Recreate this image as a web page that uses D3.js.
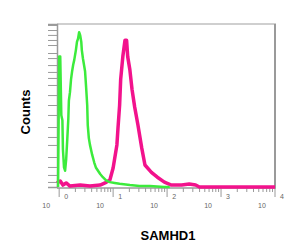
<!DOCTYPE html>
<html>
<head>
<meta charset="utf-8">
<script src="https://cdn.jsdelivr.net/npm/d3@7"></script>
<style>
  html, body { margin: 0; padding: 0; background: #fff; }
  svg { display: block; font-family: Arial, "Liberation Sans", sans-serif; }
</style>
</head>
<body>
<svg id="chart"></svg>
<script>
// x in decades (log10 of intensity), y in counts
const greenX = [-0.02, 0, 0.02, 0.04, 0.06, 0.07, 0.09, 0.11, 0.13, 0.15, 0.17, 0.18, 0.20, 0.22, 0.24, 0.26, 0.28, 0.29, 0.31, 0.33, 0.35, 0.37, 0.39, 0.41, 0.42, 0.44, 0.46, 0.48, 0.50, 0.52, 0.53, 0.55, 0.57, 0.61, 0.65, 0.68, 0.72, 0.76, 0.81, 0.87, 0.94, 1.03, 1.12, 1.31, 1.49, 1.68, 1.95, 2.05];
const greenY = [0, 80, 80, 44, 41, 23, 12, 10, 17, 29, 42, 53, 58, 66, 71, 75, 78, 80, 84, 89, 91, 95, 93, 89, 84, 79, 75, 71, 61, 50, 38, 30, 26, 20, 15, 12, 10, 8, 6, 4, 3, 2.5, 2, 1.2, 0.6, 0.6, 0, 0];

const pinkX = [-0.04, 0.02, 0.07, 0.13, 0.20, 0.39, 0.57, 0.76, 0.85, 0.94, 1.0, 1.07, 1.09, 1.12, 1.14, 1.18, 1.22, 1.25, 1.27, 1.31, 1.35, 1.40, 1.46, 1.53, 1.59, 1.71, 1.82, 1.95, 2.08, 2.27, 2.41, 2.53, 2.60, 4.0];
const pinkY = [2.5, 3.7, 1.2, 2.5, 0.6, 1.2, 0.6, 1.2, 2.5, 4.3, 11.7, 25.8, 36, 50, 66, 80, 90, 90, 80, 72, 60, 49, 38, 24, 13.5, 9, 6, 3, 1.2, 1.2, 1.8, 1.2, 0, 0];

const decades = [0, 1, 2, 3, 4];
const yTicks = [0, 3.1, 7.4, 12.3, 18.4, 25.8, 30.7, 36.8, 44.2, 50.3, 56.4, 62.6, 66.9, 70.6, 74.8, 79.1, 82.2, 87.1, 90.2, 93.3, 96.3, 99.4];

const xTitle = "SAMHD1";
const yTitle = "Counts";

// set the dimensions and margins of the graph
const W = 300, H = 252;
const margin = { top: 24, right: 24, bottom: 64, left: 57 };
const width = W - margin.left - margin.right;
const height = H - margin.top - margin.bottom;

const svg = d3.select("#chart")
  .attr("width", W)
  .attr("height", H);

const g = svg.append("g")
  .attr("transform", "translate(" + margin.left + "," + margin.top + ")");

// set the ranges
const x = d3.scaleLinear().domain([-0.04, 4]).range([0, width - 1]);
const y = d3.scaleLinear().domain([0, 100]).range([height - 1, 0]);

// frame: light top, darker right
g.append("line")
  .attr("x1", 0).attr("x2", width).attr("y1", 0).attr("y2", 0)
  .attr("stroke", "#cfcfcf").attr("stroke-width", 2);
g.append("line")
  .attr("x1", width - 1).attr("x2", width - 1).attr("y1", 0).attr("y2", height)
  .attr("stroke", "#9a9a9a").attr("stroke-width", 2);

// y axis: minor ticks only
const yAxis = g.append("g")
  .call(d3.axisLeft(y).tickValues(yTicks).tickSize(9).tickFormat(""));
yAxis.select(".domain").attr("stroke", "#9a9a9a").attr("stroke-width", 1.5);
yAxis.selectAll(".tick line").attr("stroke", "#9a9a9a");

// x axis: log decades with minor ticks
const minor = [];
decades.slice(0, -1).forEach(d => {
  for (let k = 2; k <= 9; k++) minor.push(d + Math.log10(k));
});
const xAxis = g.append("g")
  .attr("transform", "translate(0," + height + ")");
xAxis.append("line")
  .attr("x1", 0).attr("x2", width).attr("stroke", "#9a9a9a").attr("stroke-width", 1.5);
xAxis.selectAll(".minor")
  .data(minor)
  .join("line")
  .attr("class", "minor")
  .attr("x1", d => x(d)).attr("x2", d => x(d))
  .attr("y1", 0).attr("y2", 4)
  .attr("stroke", "#9a9a9a");
xAxis.selectAll(".major")
  .data(decades)
  .join("line")
  .attr("class", "major")
  .attr("x1", d => x(d)).attr("x2", d => x(d))
  .attr("y1", 0).attr("y2", 9)
  .attr("stroke", "#9a9a9a");

// "10" with exponent to the right of each decade
xAxis.selectAll(".base")
  .data(decades)
  .join("text")
  .attr("class", "base")
  .attr("x", d => x(d) - 13)
  .attr("y", 20)
  .attr("text-anchor", "middle")
  .style("font-size", "7px")
  .attr("fill", "#666")
  .text("10");
xAxis.selectAll(".exp")
  .data(decades)
  .join("text")
  .attr("class", "exp")
  .attr("x", d => x(d) + 7)
  .attr("y", 11)
  .attr("text-anchor", "middle")
  .style("font-size", "7px")
  .attr("fill", "#666")
  .text(d => d);

// histogram outlines
const line = d3.line()
  .x(d => x(d[0]))
  .y(d => y(d[1]));

g.append("path")
  .datum(pinkX.map((v, i) => [v, pinkY[i]]))
  .attr("fill", "none")
  .attr("stroke", "#f2128c")
  .attr("stroke-width", 3.5)
  .attr("stroke-linejoin", "round")
  .attr("d", line);

g.append("path")
  .datum(greenX.map((v, i) => [v, greenY[i]]))
  .attr("fill", "none")
  .attr("stroke", "#3ceb3c")
  .attr("stroke-width", 2.5)
  .attr("stroke-linejoin", "round")
  .attr("d", line);

// axis titles
svg.append("text")
  .attr("x", 168)
  .attr("y", 240)
  .attr("text-anchor", "middle")
  .style("font-size", "13px")
  .style("font-weight", "bold")
  .text(xTitle);

svg.append("text")
  .attr("transform", "translate(30,112) rotate(-90)")
  .attr("text-anchor", "middle")
  .style("font-size", "13px")
  .style("font-weight", "bold")
  .text(yTitle);
</script>
</body>
</html>
